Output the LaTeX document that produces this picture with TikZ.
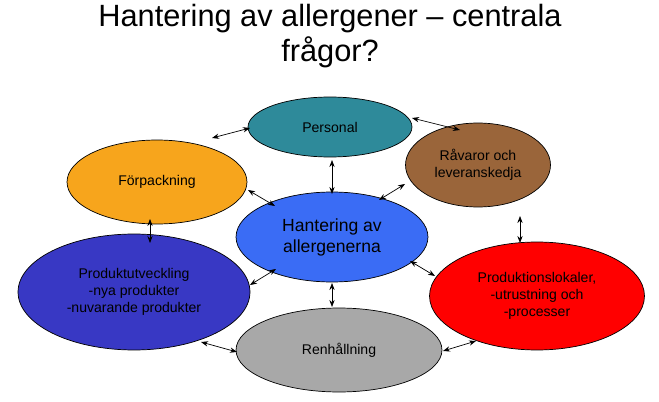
\documentclass[tikz,border=0pt]{standalone}
\usepackage{fontspec}
\setmainfont{Liberation Sans}
\usetikzlibrary{shapes.geometric,arrows.meta}
\definecolor{tealc}{HTML}{2E8A9A}
\definecolor{orangec}{HTML}{F7A51C}
\definecolor{brownc}{HTML}{9A653A}
\definecolor{bluec}{HTML}{3A6CF5}
\definecolor{darkbluec}{HTML}{3838C4}
\definecolor{grayc}{HTML}{A8A8A8}

\begin{document}
\begin{tikzpicture}[
        x=0.02cm, y=-0.02cm,
        topic/.style={ellipse, draw=black, inner sep=0pt, align=center,
            font=\fontsize{8}{9.5}\selectfont},
        link/.style={{Stealth[length=4pt]}-{Stealth[length=4pt]}, thin}
    ]
    \useasboundingbox (0,0) rectangle (659,402);

    % title
    \node[font=\fontsize{17.5}{19.5}\selectfont, align=center] (title) at (330,36)
        {Hantering av allergener – centrala\\frågor?};

    \node[topic, fill=tealc, minimum width=3.28cm, minimum height=1.2cm] (pers) at (330,127) {Personal};
    \node[topic, fill=orangec, minimum width=3.6cm, minimum height=1.68cm] (forp) at (157,182) {Förpackning};
    \node[topic, fill=brownc, minimum width=2.9cm, minimum height=1.68cm] (rav) at (478,165) {Råvaror och\\leveranskedja};
    \node[topic, fill=bluec, minimum width=3.84cm, minimum height=1.8cm,
        font=\fontsize{10}{12}\selectfont] (hant) at (332,237) {Hantering av\\allergenerna};
    \node[topic, fill=darkbluec, minimum width=4.64cm, minimum height=2.32cm] (produtv) at (134,292)
        {Produktutveckling\\-nya produkter\\-nuvarande produkter};
    \node[topic, fill=red, minimum width=4.3cm, minimum height=2.16cm] (lokal) at (537,296)
        {Produktionslokaler,\\-utrustning och\\-processer};
    \node[topic, fill=grayc, minimum width=4.12cm, minimum height=1.68cm] (renh) at (339,350) {Renhållning};

    % arrow ends
    \coordinate (a1) at (212,138); \coordinate (a2) at (250,128);
    \coordinate (b1) at (412,118); \coordinate (b2) at (460,130);
    \coordinate (c1) at (332,160); \coordinate (c2) at (332,194);
    \coordinate (d1) at (248,190); \coordinate (d2) at (275,206);
    \coordinate (e1) at (405,184); \coordinate (e2) at (379,200);
    \coordinate (f1) at (150,219); \coordinate (f2) at (150,243);
    \coordinate (g1) at (520,216); \coordinate (g2) at (520,243);
    \coordinate (h1) at (276,269); \coordinate (h2) at (250,285);
    \coordinate (i1) at (410,261); \coordinate (i2) at (435,276);
    \coordinate (j1) at (332,283); \coordinate (j2) at (332,307);
    \coordinate (k1) at (201,342); \coordinate (k2) at (237,352);
    \coordinate (l1) at (443,351); \coordinate (l2) at (476,341);

    % connectors
    \foreach \p in {a,b,c,d,e,f,g,h,i,j,k,l}
        \draw[link] (\p1) -- (\p2);
\end{tikzpicture}
\end{document}
